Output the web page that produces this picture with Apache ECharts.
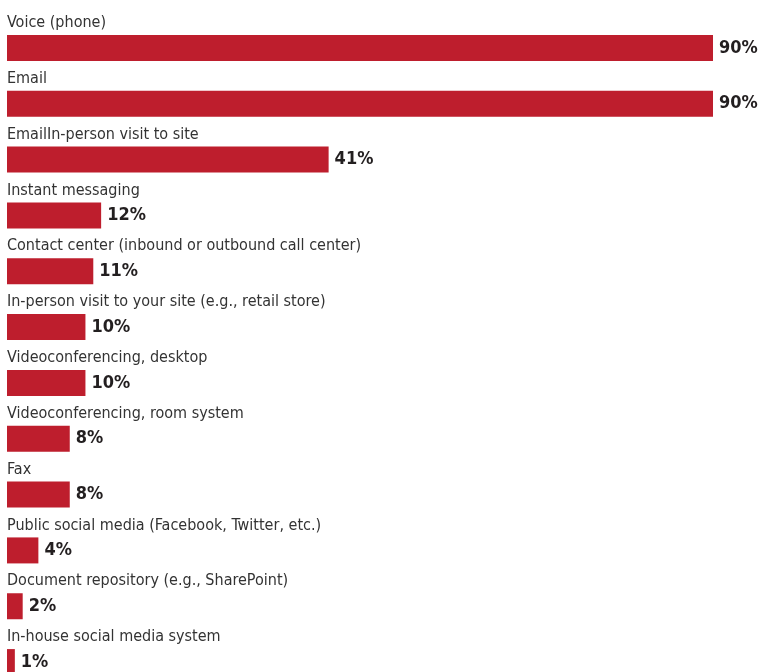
<!DOCTYPE html>
<html>
<head>
<meta charset="utf-8">
<script src="https://cdn.jsdelivr.net/npm/echarts@6/dist/echarts.min.js"></script>
<style>
  html, body { margin: 0; padding: 0; background: #fff; }
  #chart { width: 761px; height: 672px; }
</style>
</head>
<body>
<div id="chart"></div>
<script>
var categories = [
  "Voice (phone)",
  "Email",
  "EmailIn-person visit to site",
  "Instant messaging",
  "Contact center (inbound or outbound call center)",
  "In-person visit to your site (e.g., retail store)",
  "Videoconferencing, desktop",
  "Videoconferencing, room system",
  "Fax",
  "Public social media (Facebook, Twitter, etc.)",
  "Document repository (e.g., SharePoint)",
  "In-house social media system"
];
var values = [90, 90, 41, 12, 11, 10, 10, 8, 8, 4, 2, 1];

var fontFam = "'Liberation Sans Narrow', 'DejaVu Sans Condensed', 'Roboto Condensed', sans-serif";

var myChart = echarts.init(document.getElementById("chart"));
myChart.setOption({
  animation: false,
  grid: { left: 7, right: 48, top: 20, height: 670, containLabel: false, outerBoundsMode: "none" },
  xAxis: {
    type: "value",
    min: 0,
    max: 90,
    show: false
  },
  yAxis: {
    type: "category",
    data: categories,
    inverse: true,
    axisLine: { show: false },
    axisTick: { show: false },
    splitLine: { show: false },
    axisLabel: {
      inside: true,
      align: "left",
      verticalAlign: "bottom",
      margin: 0,
      padding: [0, 0, 17, 0],
      color: "#333333",
      fontSize: 16,
      fontFamily: fontFam
    },
    z: 10
  },
  series: [
    {
      type: "bar",
      data: values,
      barWidth: 26,
      itemStyle: { color: "#be1e2d" },
      label: {
        show: true,
        position: "right",
        distance: 6,
        formatter: "{c}%",
        color: "#231f20",
        fontSize: 18,
        fontWeight: "bold",
        fontFamily: fontFam
      }
    }
  ]
});
</script>
</body>
</html>
